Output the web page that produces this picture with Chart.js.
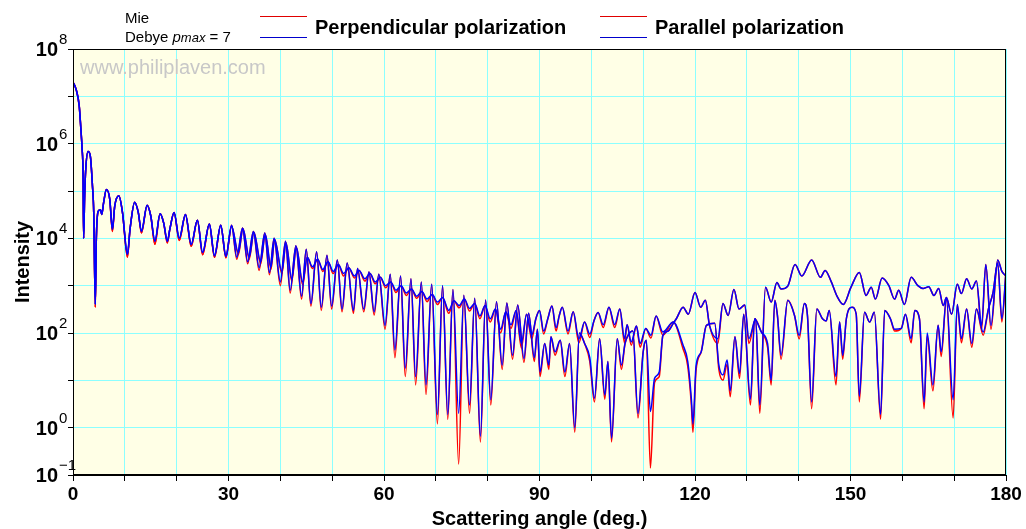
<!DOCTYPE html>
<html>
<head>
<meta charset="utf-8">
<script src="https://cdn.jsdelivr.net/npm/chart.js@4.4.0/dist/chart.umd.min.js"></script>
<style>
body { margin: 0; background: #fff; }
canvas { display: block; }
</style>
</head>
<body>
<canvas id="myChart" width="1026" height="529"></canvas>
<script>
// scattering angle (deg.) and intensity
var parAngles = [0,0.6,1.2,1.5,1.75,1.95,2.05,2.25,2.45,2.9,3.35,3.75,4.0,4.3,4.5,4.85,5.3,5.55,5.9,6.45,7.1,7.6,8.05,8.85,9.55,10.5,11.0,11.9,12.6,13.2,14.3,15.0,15.8,16.8,17.5,18.2,18.7,19.5,20.5,21.7,22.8,24.0,25.0,26.3,27.3,28.5,29.5,
  30.6,31.6,32.7,33.7,34.8,35.9,37.0,37.9,38.8,40.0,41.0,41.9,43.0,44.1,45.0,45.9,47.0,47.9,49.0,49.9,51.0,51.9,52.9,54.1,54.9,56.1,57.1,58.1,59.0,
  60.2,61.2,62.1,63.2,64.1,65.2,66.1,67.2,68.1,69.2,70.3,71.3,72.3,73.3,74.4,75.4,76.5,77.5,78.6,79.6,80.6,81.7,82.8,83.7,84.8,85.8,87.0,87.9,89.0,89.6,
  90.1,91.0,91.8,92.2,93.0,94.0,94.9,95.8,96.8,97.7,98.7,99.7,100.6,101.6,102.6,103.2,103.9,105.0,105.8,106.5,107.1,108.0,109.0,110.0,110.6,111.4,112.2,113.1,113.8,114.8,
  115.8,116.4,117.7,118.7,120.0,121.1,122.0,122.8,124.4,125.4,126.4,127.5,128.5,129.6,130.4,131.7,132.5,133.6,134.7,135.8,
  136.6,137.9,139.3,140.6,142.5,144.2,145.1,146.3,147.4,148.6,150.1,151.7,153.0,154.0,154.8,156.1,157.4,158.5,159.3,160.4,
  161.7,163.0,164.0,165.1,166.1,167.0,167.9,168.5,169.5,170.6,171.4,172.4,173.4,174.3,175.3,176.1,177.1,178.4,179.2,180];
var parDebye = [2e7,1.4e7,6.3e6,2.2e6,8e5,2e5,1e4,8e4,2.8e5,6.8e5,5.4e5,1.3e5,3.5e4,400,9.5e3,3.7e4,4e4,3.2e4,5.6e4,1.07e5,6.6e4,1.55e4,4.8e4,7.9e4,3.5e4,4.6e3,1.55e4,5.8e4,3.5e4,1.4e4,5e4,3e4,8.7e3,3.3e4,2.1e4,8.7e3,1.6e4,3.5e4,1e4,3.2e4,7.4e3,2.4e4,5e3,2e4,4.3e3,1.9e4,4.2e3,
  1.9e4,4e3,1.66e4,3.2e3,1.4e4,2.4e3,1.3e4,1.9e3,1e4,1.2e3,8.7e3,800,7e3,600,5.9e3,420,5.2e3,350,4.4e3,370,3.5e3,320,3e3,300,2.3e3,320,1.95e3,280,1.75e3,
  145,1.75e3,44,1.6e3,18,1.4e3,12,1.2e3,8,1.07e3,1.9,1e3,1.9,830,2,630,3,540,0.66,500,3.9,460,21,430,34,390,29,260,30,120,
  15,60,21,83,40,70,15,60,1,100,60,30,4.2,76,4.9,25,0.6,76,21,60,90,110,2,40,70,2.2,11,15,89,110,
  160,200,350,250,720,350,490,145,76,420,235,830,320,390,76,200,3,930,450,1170,
  850,980,2800,1600,3500,1500,2100,1200,600,400,930,1900,620,930,520,1450,1000,520,800,400,
  1500,1000,870,950,620,870,380,560,250,1070,680,1400,850,1250,145,2800,145,3500,2000,1600];
var parMie = [2e7,1.4e7,6.3e6,2.2e6,8e5,2e5,1e4,8e4,2.8e5,6.8e5,5.4e5,1.3e5,3.5e4,350,9.5e3,3.7e4,4e4,3.2e4,5.6e4,1.07e5,6.6e4,1.4e4,4.8e4,7.9e4,3.5e4,4e3,1.55e4,5.8e4,3.5e4,1.3e4,5e4,3e4,7.5e3,3.3e4,2.1e4,8e3,1.6e4,3.5e4,9e3,3.2e4,6.8e3,2.4e4,4.5e3,2e4,4e3,1.9e4,3.9e3,
  1.9e4,3.6e3,1.66e4,2.9e3,1.4e4,2.1e3,1.3e4,1.7e3,1e4,1e3,8.7e3,700,7e3,520,5.9e3,370,5.2e3,300,4.4e3,320,3.5e3,280,3e3,260,2.3e3,280,1.95e3,240,1.75e3,
  120,1.75e3,30,1.6e3,12,1.4e3,8,1.2e3,5,1.07e3,1.2,1e3,1.5,830,0.17,630,2,540,0.5,500,3,460,17,430,28,390,24,260,25,120,
  12,60,17,83,34,70,12,60,0.8,100,60,25,3.5,76,4,25,0.5,76,17,60,90,110,1.6,40,70,0.14,9,12,89,110,
  160,200,350,250,720,350,490,145,60,420,235,830,320,390,60,200,2,930,450,1170,
  850,980,2800,1600,3500,1500,2100,1200,600,400,930,1900,620,930,520,1450,1000,520,800,400,
  1500,1000,870,950,620,870,380,560,250,1070,680,1400,850,1250,120,2800,120,3500,2000,1600];

var perpAngles = [0,0.6,1.2,1.5,1.75,1.95,2.05,2.25,2.45,2.9,3.35,3.75,4.0,4.3,4.5,4.85,5.3,5.55,5.9,6.45,7.1,7.6,8.05,8.85,9.55,10.5,11.0,11.9,12.6,13.2,14.3,15.0,15.8,16.8,17.5,18.2,18.7,19.5,20.5,21.7,22.8,24.0,25.0,26.3,27.3,28.5,29.5,
  30.6,31.9,32.8,34.0,34.9,36.2,37.1,38.2,38.9,40.3,41.1,42.2,43.1,44.3,45.2,46.2,47.2,48.2,49.2,50.2,51.2,52.2,53.2,54.3,55.2,56.3,57.3,58.3,59.3,
  60.3,61.3,62.3,63.3,64.3,65.3,66.3,67.3,68.3,69.3,70.3,71.3,72.5,73.5,74.5,75.5,76.5,77.5,78.5,79.5,80.5,81.5,82.5,83.5,84.5,85.5,86.5,87.5,88.5,89.3,
  90.0,90.8,91.6,92.4,93.2,93.8,94.4,95.5,96.5,97.6,98.7,99.7,100.5,101.3,102.3,103.4,104.5,105.5,106.4,106.9,
  107.7,108.7,109.4,110.5,111.5,112.5,113.8,115.8,117.7,118.6,119.3,119.6,120.2,121.2,122.2,123.8,124.6,125.4,126.2,126.8,
  127.7,128.6,129.4,130.7,131.5,132.8,134.0,134.7,135.4,
  135.9,136.6,137.9,139.2,140.1,141.1,141.7,142.5,143.5,144.6,145.3,145.9,147.2,147.9,148.5,149.2,150.3,151.1,151.7,152.7,
  153.7,154.6,155.8,156.6,157.7,158.5,159.8,160.6,161.7,162.4,163.3,164.2,164.8,165.9,166.9,167.5,168.5,169.8,170.6,171.4,
  172.4,173.4,174.3,175.6,176.6,177.5,178.4,179.2,180];
var perpDebye = [2e7,1.4e7,6.3e6,2.2e6,8e5,2e5,1e4,8e4,2.8e5,6.8e5,5.4e5,1.3e5,3.5e4,400,9.5e3,3.7e4,4e4,3.2e4,5.6e4,1.07e5,6.6e4,1.55e4,4.8e4,7.9e4,3.5e4,4.6e3,1.55e4,5.8e4,3.5e4,1.4e4,5e4,3e4,8.7e3,3.3e4,2.1e4,8.7e3,1.6e4,3.5e4,1e4,3.2e4,7.4e3,2.4e4,5e3,2e4,4.3e3,1.9e4,4.2e3,
  1.8e4,5e3,1.6e4,4e3,1.35e4,3.2e3,1.2e4,2.5e3,9.5e3,2e3,8e3,1.4e3,6.5e3,1.2e3,4e3,2.5e3,3.6e3,2.2e3,3.2e3,2e3,2.8e3,1.8e3,2.4e3,1.6e3,2.1e3,1.4e3,1.8e3,1.2e3,1.5e3,
  1e3,1.2e3,800,1e3,700,850,600,750,520,650,450,560,300,480,380,520,330,420,230,380,200,320,120,280,150,300,60,250,90,200,
  300,110,200,370,130,230,350,110,280,76,170,95,180,270,150,350,150,320,76,150,
  65,140,60,125,90,230,105,170,55,25,4,1.2,20,40,145,160,21,13,27,6,
  83,14,250,4,200,105,60,10,490,
  235,34,490,235,89,420,230,3.5,320,200,180,300,12,170,34,200,350,250,4.6,275,
  170,275,1.9,300,200,120,125,250,76,300,200,3.5,100,8,145,40,520,3.9,400,76,
  320,60,320,105,320,720,3000,200,2000];
var perpMie = [2e7,1.4e7,6.3e6,2.2e6,8e5,2e5,1e4,8e4,2.8e5,6.8e5,5.4e5,1.3e5,3.5e4,350,9.5e3,3.7e4,4e4,3.2e4,5.6e4,1.07e5,6.6e4,1.4e4,4.8e4,7.9e4,3.5e4,4e3,1.55e4,5.8e4,3.5e4,1.3e4,5e4,3e4,7.5e3,3.3e4,2.1e4,8e3,1.6e4,3.5e4,9e3,3.2e4,6.8e3,2.4e4,4.5e3,2e4,4e3,1.9e4,3.9e3,
  1.8e4,4.5e3,1.6e4,3.6e3,1.35e4,2.9e3,1.2e4,2.2e3,9.5e3,1.8e3,8e3,1.25e3,6.5e3,1.05e3,4e3,2.3e3,3.6e3,2e3,3.2e3,1.8e3,2.8e3,1.6e3,2.4e3,1.45e3,2.1e3,1.25e3,1.8e3,1.1e3,1.5e3,
  900,1.2e3,720,1e3,620,850,540,750,460,650,400,560,260,480,340,520,290,420,200,380,170,320,100,280,125,300,48,250,75,200,
  300,95,200,370,110,230,350,95,280,62,170,80,180,270,130,350,130,320,62,150,
  55,140,50,125,78,230,90,170,46,20,3,0.8,16,40,145,160,17,10,22,4.5,
  83,11,250,3,200,105,50,8,490,
  235,28,490,235,75,420,230,2.5,320,200,180,300,8,170,28,200,350,250,3.5,275,
  170,275,1.5,300,200,110,125,250,62,300,200,2.5,85,6,145,32,520,1.6,400,62,
  320,50,320,90,320,720,3000,170,2000];

var FONT = '"Liberation Sans", Arial, Helvetica, sans-serif';
var GRID = '#8CFFFF';

function pts(a, v) {
  return a.map(function (x, i) { return { x: x, y: v[i] }; });
}

var decor = {
  id: 'decor',
  beforeDraw: function (c) {
    var ctx = c.ctx, a = c.chartArea;
    ctx.save();
    ctx.fillStyle = '#fff';
    ctx.fillRect(0, 0, c.width, c.height);
    ctx.fillStyle = '#FFFFE6';
    ctx.fillRect(a.left, a.top, a.right - a.left, a.bottom - a.top);
    ctx.restore();
  },
  beforeDatasetsDraw: function (c) {
    var ctx = c.ctx;
    ctx.save();
    ctx.fillStyle = '#C8C8C8';
    ctx.font = '20px ' + FONT;
    ctx.textBaseline = 'alphabetic';
    ctx.fillText('www.philiplaven.com', 80, 74);
    ctx.restore();
  },
  afterDraw: function (c) {
    var ctx = c.ctx, a = c.chartArea, y = c.scales.y;
    ctx.save();
    // frame
    ctx.strokeStyle = '#000';
    ctx.lineWidth = 1;
    ctx.strokeRect(Math.round(a.left) + 0.5, Math.round(a.top) + 0.5,
      Math.round(a.right - a.left) - 1, Math.round(a.bottom - a.top) - 1);

    // y tick labels 10^n
    ctx.fillStyle = '#000';
    [8, 6, 4, 2, 0, -1].forEach(function (n) {
      var py = y.getPixelForValue(Math.pow(10, n));
      ctx.font = 'bold 20px ' + FONT;
      ctx.textAlign = 'right';
      ctx.textBaseline = 'alphabetic';
      ctx.fillText('10', 58, py + 7);
      ctx.font = '15px ' + FONT;
      ctx.textAlign = 'left';
      ctx.fillText(String(n).replace('-', '\u2212'), 59, py - 5);
    });

    // axis titles
    ctx.font = 'bold 20px ' + FONT;
    ctx.textAlign = 'center';
    ctx.textBaseline = 'alphabetic';
    ctx.fillText('Scattering angle (deg.)', (a.left + a.right) / 2, 525);
    ctx.save();
    ctx.translate(29, (a.top + a.bottom) / 2);
    ctx.rotate(-Math.PI / 2);
    ctx.fillText('Intensity', 0, 0);
    ctx.restore();

    // legend
    ctx.textAlign = 'left';
    ctx.font = '15px ' + FONT;
    ctx.fillText('Mie', 125, 23);
    var x = 125;
    ctx.fillText('Debye ', x, 42);
    x += ctx.measureText('Debye ').width;
    ctx.font = 'italic 15px ' + FONT;
    ctx.fillText('p', x, 42);
    x += ctx.measureText('p').width;
    ctx.font = 'italic 13px ' + FONT;
    ctx.fillText('max', x, 42);
    x += ctx.measureText('max').width;
    ctx.font = '15px ' + FONT;
    ctx.fillText(' = 7', x, 42);

    [[260, 'Perpendicular polarization'], [600, 'Parallel polarization']].forEach(function (l) {
      ctx.lineWidth = 1;
      ctx.strokeStyle = '#E00000';
      ctx.beginPath(); ctx.moveTo(l[0], 16.5); ctx.lineTo(l[0] + 47, 16.5); ctx.stroke();
      ctx.strokeStyle = '#0000CC';
      ctx.beginPath(); ctx.moveTo(l[0], 37.5); ctx.lineTo(l[0] + 47, 37.5); ctx.stroke();
      ctx.font = 'bold 20px ' + FONT;
      ctx.fillStyle = '#000';
      ctx.fillText(l[1], l[0] + 55, 34);
    });
    ctx.restore();
  }
};

var ctx = document.getElementById('myChart');

new Chart(ctx, {
  type: 'line',
  data: {
    datasets: [
      { label: 'Debye perpendicular', data: pts(perpAngles, perpDebye), borderColor: '#0000FF' },
      { label: 'Debye parallel', data: pts(parAngles, parDebye), borderColor: '#0000FF' },
      { label: 'Mie perpendicular', data: pts(perpAngles, perpMie), borderColor: '#FF0000' },
      { label: 'Mie parallel', data: pts(parAngles, parMie), borderColor: '#FF0000' }
    ]
  },
  options: {
    responsive: false,
    animation: false,
    events: [],
    layout: { padding: { left: 0, right: 20, top: 49, bottom: 0 } },
    elements: {
      point: { radius: 0 },
      line: { cubicInterpolationMode: 'monotone', borderWidth: 1.5, fill: false }
    },
    plugins: { legend: { display: false }, tooltip: { enabled: false } },
    scales: {
      x: {
        type: 'linear', min: 0, max: 180,
        afterBuildTicks: function (s) {
          var t = [];
          for (var v = 0; v <= 180; v += 10) t.push({ value: v });
          s.ticks = t;
        },
        ticks: {
          autoSkip: false, maxRotation: 0, padding: 2, color: '#000',
          font: { family: FONT, size: 19, weight: 'bold' },
          callback: function (v) { return v % 30 === 0 ? String(v) : ''; }
        },
        grid: { color: GRID, lineWidth: 1, tickColor: '#000', tickLength: 6 },
        border: { color: '#000', width: 1 },
        afterFit: function (s) { s.height = 54; }
      },
      y: {
        type: 'logarithmic', min: 0.1, max: 1e8,
        afterBuildTicks: function (s) {
          s.ticks = [-1, 0, 1, 2, 3, 4, 5, 6, 7, 8].map(function (n) { return { value: Math.pow(10, n) }; });
        },
        ticks: { autoSkip: false, callback: function () { return ''; } },
        grid: { color: GRID, lineWidth: 1, tickColor: '#000', tickLength: 5 },
        border: { color: '#000', width: 1 },
        afterFit: function (s) { s.width = 73; }
      }
    }
  },
  plugins: [decor]
});
</script>
</body>
</html>
